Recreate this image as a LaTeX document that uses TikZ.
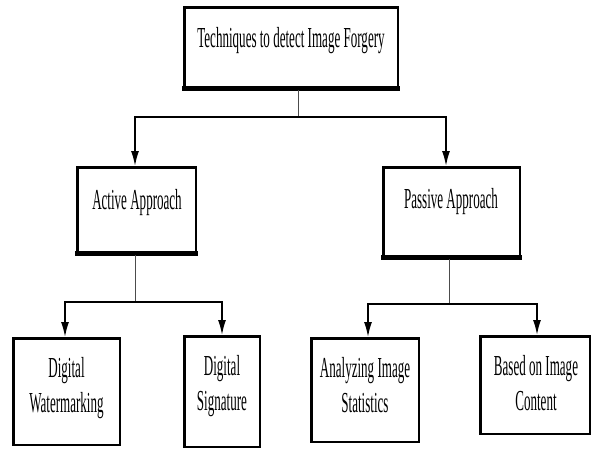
\documentclass[tikz,border=0pt]{standalone}
\usepackage{fontspec}
\setmainfont{Liberation Serif}[FakeStretch=0.45]
\usetikzlibrary{arrows.meta,calc}
\begin{document}
\begin{tikzpicture}[x=1pt,y=-1pt,
  box/.style={draw=black,line width=2.5pt,inner sep=0pt},
  txt/.style={font=\fontsize{29}{35}\selectfont,align=center,anchor=base,inner sep=0pt},
  stem/.style={draw=black!70,line width=1pt},
  hline/.style={draw=black!85,line width=1.3pt},
  arr/.style={draw=black,line width=1.6pt,-{Latex[length=15pt,width=8pt]}},
  heavy/.style={fill=black}]
\useasboundingbox (0,0) rectangle (592,450);
% boxes (outer edges minus half border)
\node[box,minimum width=213.5pt,minimum height=81.5pt] (top) at (291,48) {};
\node[box,minimum width=118.5pt,minimum height=86.5pt] (act) at (136.5,210.5) {};
\node[box,minimum width=136.5pt,minimum height=90.5pt] (pas) at (451.5,212.5) {};
\node[box,minimum width=106.5pt,minimum height=106.5pt] (dw) at (66.5,391.5) {};
\node[box,minimum width=75.5pt,minimum height=110.5pt] (ds) at (222,391.5) {};
\node[box,minimum width=107.5pt,minimum height=103.5pt] (ais) at (365,390) {};
\node[box,minimum width=109.5pt,minimum height=97.5pt] (bic) at (535,385) {};
% heavier bottom edges of upper boxes
\fill[heavy] ([shift={(-1.25,1.25)}]top.south west) rectangle ([shift={(1.25,-4)}]top.south east);
\fill[heavy] ([shift={(-1.25,1.25)}]act.south west) rectangle ([shift={(1.25,-4.5)}]act.south east);
\fill[heavy] ([shift={(-1.25,1.25)}]pas.south west) rectangle ([shift={(1.25,-4)}]pas.south east);
% texts (base = baseline of last line)
\node[txt] (ttop) at (291,47) {Techniques to detect Image Forgery};
\node[txt] (tact) at (137,209) {Active Approach};
\node[txt] (tpas) at (451,208) {Passive Approach};
\node[txt] (tdw) at (66.5,412) {Digital\\Watermarking};
\node[txt] (tds) at (222,410) {Digital\\Signature};
\node[txt] (tais) at (365,412) {Analyzing Image\\Statistics};
\node[txt] (tbic) at (536,410) {Based on Image\\Content};
% connectors
\coordinate (j1) at (298,117);
\coordinate (j2) at (135,302);
\coordinate (j3) at (449,304);
\draw[stem] (top.south -| j1) -- (j1);
\draw[hline] (135,117) -- (446,117);
\draw[arr] (j1) -| ([xshift=-1.5]act.north);
\draw[arr] (j1) -| ([xshift=-5.5]pas.north);
\draw[stem] (act.south -| j2) -- (j2);
\draw[hline] (65,302) -- (222,302);
\draw[arr] (j2) -| ([xshift=-1.5]dw.north);
\draw[arr] (j2) -| (ds.north);
\draw[stem] (pas.south -| j3) -- (j3);
\draw[hline] (368,304) -- (537,304);
\draw[arr] (j3) -| ([xshift=3]ais.north);
\draw[arr] (j3) -| ([xshift=2]bic.north);
\end{tikzpicture}
\end{document}
